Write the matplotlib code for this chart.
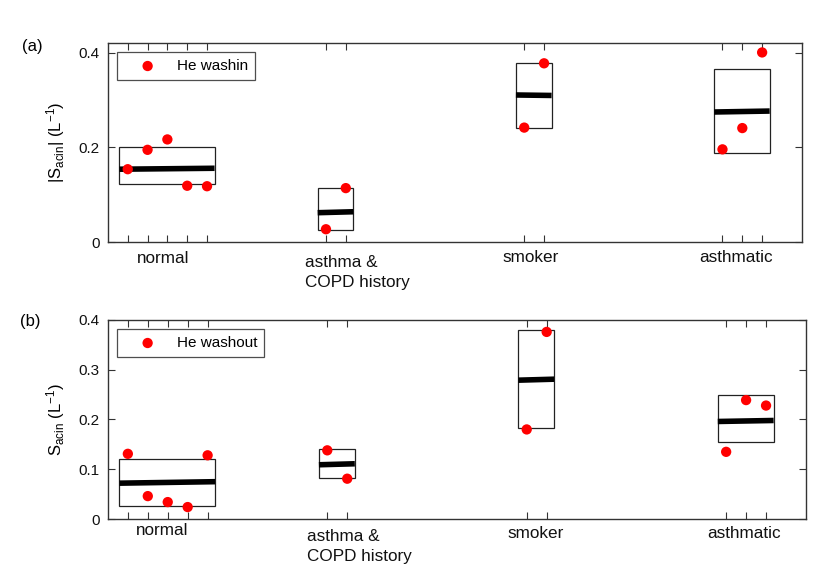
import matplotlib.pyplot as plt
from matplotlib.patches import Rectangle

plt.rcParams['font.family'] = ['Liberation Sans', 'DejaVu Sans']
plt.rcParams['mathtext.fontset'] = 'custom'
plt.rcParams['mathtext.rm'] = 'Liberation Sans'
plt.rcParams['mathtext.it'] = 'Liberation Sans'

# groups and subject positions on the x axis
groups = ['normal', 'asthma &\nCOPD history', 'smoker', 'asthmatic']
subjects = [[1, 2, 3, 4, 5], [11, 12], [21, 22], [31, 32, 33]]

# (a) He washin
washin_pts = [[0.154, 0.195, 0.217, 0.119, 0.118], [0.027, 0.114], [0.242, 0.378], [0.196, 0.241, 0.401]]
washin_box_lo = [0.122, 0.025, 0.241, 0.189]
washin_box_hi = [0.200, 0.114, 0.378, 0.367]
washin_line_l = [0.154, 0.062, 0.311, 0.275]
washin_line_r = [0.156, 0.064, 0.310, 0.277]

# (b) He washout
washout_pts = [[0.131, 0.046, 0.034, 0.024, 0.128], [0.138, 0.081], [0.180, 0.376], [0.135, 0.239, 0.228]]
washout_box_lo = [0.027, 0.082, 0.183, 0.155]
washout_box_hi = [0.121, 0.140, 0.379, 0.249]
washout_line_l = [0.072, 0.109, 0.279, 0.196]
washout_line_r = [0.075, 0.111, 0.281, 0.198]

# group label anchors (x in data units, last-line baseline drop below axis in points)
label_x_a = [1.45, 9.93, 19.9, 29.82]
label_dy_a = [14.9, 32.2, 14.2, 14.2]
label_x_b = [1.40, 9.97, 20.02, 30.06]
label_dy_b = [11.5, 30.0, 13.9, 13.9]

fig = plt.figure(figsize=(8.3, 5.84), dpi=100)
ax1 = fig.add_axes([0.130, 0.5856, 0.836, 0.3408])
ax2 = fig.add_axes([0.130, 0.1113, 0.841, 0.3408])


def panel(ax, pts, lo, hi, ll, lr, label, ylim, yticks, yticklabels, lx, ldy):
    for xs, ys, b0, b1, l0, l1 in zip(subjects, pts, lo, hi, ll, lr):
        x0 = xs[0] - 0.42
        x1 = xs[-1] + 0.38
        ax.add_patch(Rectangle((x0, b0), x1 - x0, b1 - b0, fill=False,
                               edgecolor='#222222', linewidth=0.9, zorder=2))
        ax.plot([x0, x1], [l0, l1], color='black', linewidth=4,
                solid_capstyle='butt', zorder=3)
    allx = [x for xs in subjects for x in xs]
    ally = [y for ys in pts for y in ys]
    ax.scatter(allx, ally, s=55, color='#ff0000', edgecolors='none',
               zorder=4, label=label)
    ax.set_xlim(0, 35)
    ax.set_ylim(*ylim)
    ax.set_xticks(allx)
    ax.set_xticklabels([])
    ax.set_yticks(yticks)
    ax.set_yticklabels(yticklabels)
    ax.tick_params(direction='in', top=True, right=True, length=5,
                   width=0.8, color='#333333', labelsize=11, labelcolor='#111111')
    ax.tick_params(axis='y', pad=6)
    for s in ax.spines.values():
        s.set_color('#333333')
        s.set_linewidth(1.0)
    for x, dy, g in zip(lx, ldy, groups):
        ax.annotate(g, xy=(x, 0), xycoords=('data', 'axes fraction'),
                    xytext=(0, -dy), textcoords='offset points',
                    ha='left', va='baseline', fontsize=12.3, color='#111111',
                    linespacing=1.36, multialignment='left')
    leg = ax.legend(loc='upper left', frameon=True, fancybox=False,
                    edgecolor='#222222', fontsize=11, handletextpad=0.35,
                    borderpad=0.45, handlelength=3.1, borderaxespad=0.6,
                    scatterpoints=1)
    leg.get_frame().set_linewidth(0.9)


panel(ax1, washin_pts, washin_box_lo, washin_box_hi, washin_line_l, washin_line_r,
      'He washin', (0, 0.421), [0, 0.2, 0.4], ['0', '0.2', '0.4'],
      label_x_a, label_dy_a)
panel(ax2, washout_pts, washout_box_lo, washout_box_hi, washout_line_l, washout_line_r,
      'He washout', (0, 0.4), [0, 0.1, 0.2, 0.3, 0.4], ['0', '0.1', '0.2', '0.3', '0.4'],
      label_x_b, label_dy_b)

ax1.set_ylabel(r'$|\mathrm{S}_{\mathrm{acin}}|\ (\mathrm{L}^{-1})$', fontsize=12, labelpad=8)
ax2.set_ylabel(r'$\mathrm{S}_{\mathrm{acin}}\ (\mathrm{L}^{-1})$', fontsize=12, labelpad=8)

fig.text(0.026, 0.92, '(a)', fontsize=12, va='center')
fig.text(0.024, 0.449, '(b)', fontsize=12, va='center')

fig.savefig('out.png', dpi=100)
